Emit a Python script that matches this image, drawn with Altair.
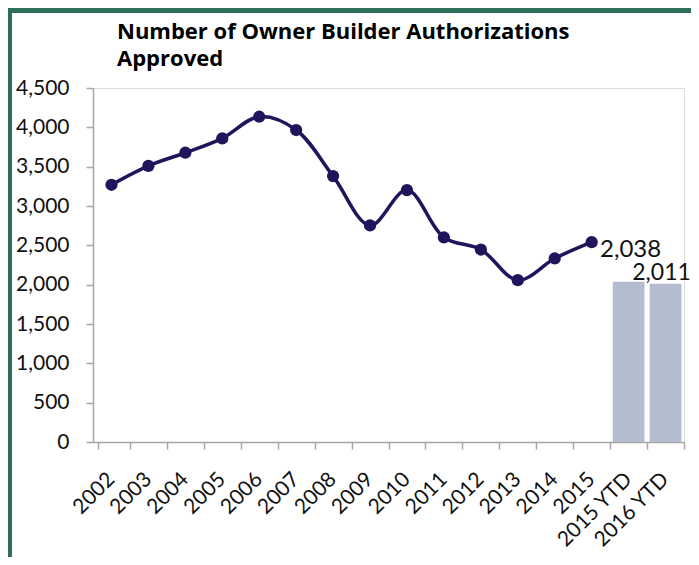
import altair as alt
import pandas as pd

years = ["2002", "2003", "2004", "2005", "2006", "2007", "2008", "2009",
         "2010", "2011", "2012", "2013", "2014", "2015"]
approved = [3270, 3511, 3677, 3860, 4135, 3966, 3380, 2753,
            3202, 2600, 2447, 2057, 2333, 2540]
ytd_cats = ["2015 YTD", "2016 YTD"]
ytd_vals = [2038, 2011]
all_cats = years + ytd_cats
title_lines = ["Number of Owner Builder Authorizations", "Approved"]

line_df = pd.DataFrame({"cat": years, "value": approved})
bar_df = pd.DataFrame({"cat": ytd_cats, "value": ytd_vals})

W, H = 591, 354
FONT = "Lato"
AXIS_GRAY = "#A6A6A6"

xscale = alt.Scale(domain=all_cats, paddingInner=0.14, paddingOuter=0.07)
yscale = alt.Scale(domain=[0, 4500], nice=False, zero=True)

x_enc = alt.X(
    "cat:N", scale=xscale, sort=all_cats, title=None,
    axis=alt.Axis(
        labelAngle=-45, labelAlign="right", labelBaseline="middle",
        labelFont=FONT, labelFontSize=21, labelColor="#111",
        labelPadding=27, bandPosition=1, tickOffset=2.6, tickExtra=True,
        labelOffset=-3,
        tickSize=7, tickColor=AXIS_GRAY, tickWidth=1.5,
        domainColor=AXIS_GRAY, domainWidth=1.5, grid=False,
    ),
)
y_enc = alt.Y(
    "value:Q", scale=yscale, title=None,
    axis=alt.Axis(
        values=list(range(0, 4501, 500)), format=",.0f",
        labelFont=FONT, labelFontSize=21, labelColor="#111",
        labelPadding=17, tickSize=7, tickColor=AXIS_GRAY, tickWidth=1.5,
        domainColor=AXIS_GRAY, domainWidth=1.5, grid=False,
    ),
)

bars = alt.Chart(bar_df).mark_bar(color="#B3BDCF").encode(x=x_enc, y=y_enc)

line = alt.Chart(line_df).mark_line(
    color="#22145C", strokeWidth=3.5, interpolate="catmull-rom"
).encode(x=x_enc, y=y_enc)

pts = alt.Chart(line_df).mark_circle(
    color="#22145C", size=150, opacity=1
).encode(x=x_enc, y=y_enc)

lab1 = alt.Chart(bar_df).transform_filter(
    alt.datum.cat == "2015 YTD"
).mark_text(font=FONT, fontSize=24, color="#111", dy=-25, dx=2,
            baseline="alphabetic").encode(
    x=x_enc, y=y_enc, text=alt.Text("value:Q", format=",.0f")
)
lab2 = alt.Chart(bar_df).transform_filter(
    alt.datum.cat == "2016 YTD"
).mark_text(font=FONT, fontSize=23, color="#111", dy=-4, dx=-4,
            baseline="alphabetic").encode(
    x=x_enc, y=y_enc, text=alt.Text("value:Q", format=",.0f")
)

title = alt.Chart(bar_df).transform_filter(
    alt.datum.cat == "2015 YTD"
).mark_text(
    text="\n".join(title_lines), lineBreak="\n", lineHeight=27,
    font="Open Sans", fontSize=22, fontWeight="bold", color="#000",
    align="left", baseline="alphabetic",
).encode(x=alt.value(24), y=alt.value(-49))

border_top = alt.Chart(line_df).mark_rule(color="#2E6F57", strokeWidth=5).encode(
    x=alt.value(-85), x2=alt.value(W + 7), y=alt.value(-77.5)
)
border_left = alt.Chart(line_df).mark_rule(color="#2E6F57", strokeWidth=4).encode(
    x=alt.value(-83), y=alt.value(-80), y2=alt.value(H + 115)
)

chart = alt.layer(
    bars, line, pts, lab1, lab2, title, border_top, border_left
).properties(
    width=W, height=H,
    autosize=alt.AutoSizeParams(type="none"),
    padding={"left": 85, "top": 80, "right": 7, "bottom": 115},
).configure_view(stroke=None).configure(background="white")

chart.save("out.html", embed_options={"renderer": "svg", "actions": False})
